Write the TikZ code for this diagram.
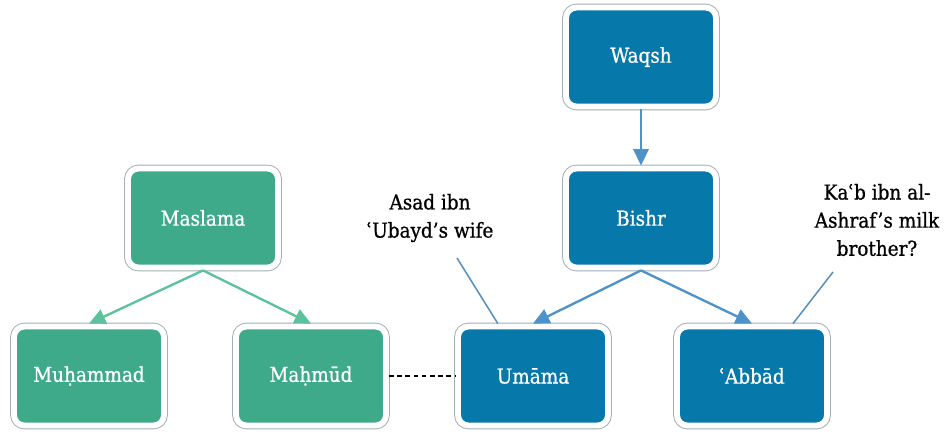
\documentclass[tikz,border=0pt]{standalone}
\usepackage{fontspec}
\setmainfont{DejaVu Serif Condensed}
\newfontfamily\heavyfont[FakeBold=0.8,Ligatures=TeX]{DejaVu Serif Condensed}
\usetikzlibrary{arrows.meta,calc}
\definecolor{deep}{HTML}{0778AA}
\definecolor{sea}{HTML}{3EAA89}
\definecolor{deeparr}{HTML}{4D93C9}
\definecolor{seaarr}{HTML}{5CC29B}
\definecolor{rim}{HTML}{A3AEB3}

\begin{document}
\begin{tikzpicture}[x=0.03cm,y=-0.03cm,
  person/.style={minimum width=4.5cm,minimum height=2.97cm,rounded corners=9pt,
    draw=white,line width=5pt,text=white,font=\heavyfont\fontsize{17.5}{21}\selectfont,
    preaction={draw=rim,line width=6.6pt}},
  bl/.style={person,fill=deep},
  gr/.style={person,fill=sea},
  ab/.style={-{Triangle[length=14pt,width=13pt]},line width=2pt,deeparr},
  ag/.style={-{Triangle[length=14pt,width=13pt]},line width=2pt,seaarr},
  note/.style={align=center,font=\heavyfont\fontsize{17.5}{24}\selectfont},
  lead/.style={line width=1.3pt,deeparr!85!gray},
  link/.style={dashed,line width=1.5pt,dash pattern=on 4pt off 3pt}]
\useasboundingbox (0,0) rectangle (948,434);
% Bishr line (blue)
\node[bl] (waqsh) at (641,57) {Waqsh};
\node[bl] (bishr) at (641,218) {Bishr};
\node[bl] (umama) at (533,376) {Umāma};
\node[bl] (abbad) at (752,376) {ʿAbbād};
% Maslama line (green)
\node[gr] (maslama) at (203,218) {Maslama};
\node[gr] (muhammad) at (89,376) {Muḥammad};
\node[gr] (mahmud) at (311,376) {Maḥmūd};
% notes
\node[note] (asad) at (430,218) {Asad ibn\\ʿUbayd’s wife};
\node[note] (kab) at (877,220) {Kaʿb ibn al-\\Ashraf’s milk\\brother?};
\coordinate (asadend) at (457,258);
\coordinate (kabend) at (833,272);
\draw[ab] (waqsh.south) -- (bishr.north);
\draw[ab] (bishr.south) -- (umama.north);
\draw[ab] (bishr.south) -- (abbad.north);
\draw[ag] (maslama.south) -- (muhammad.north);
\draw[ag] (maslama.south) -- (mahmud.north);
\draw[link] (mahmud.east) -- (umama.west);
\draw[lead] (asadend) -- ([xshift=-30pt]umama.north);
\draw[lead] (kabend) -- ([xshift=35pt]abbad.north);
\end{tikzpicture}
\end{document}
